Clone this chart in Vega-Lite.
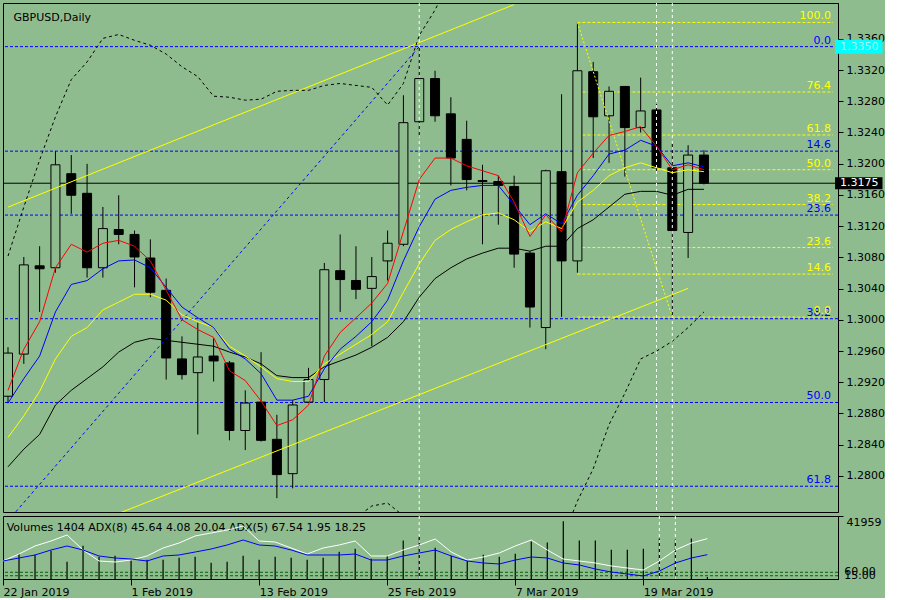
{
  "$schema": "https://vega.github.io/schema/vega-lite/v6.json",
  "background": "#8fbc8f",
  "padding": {"left": 2, "top": 2, "right": 0, "bottom": 0},
  "spacing": 2,
  "config": {
    "view": {"stroke": "black", "strokeWidth": 1},
    "axis": {"grid": false, "labelFont": "DejaVu Sans", "labelFontSize": 11, "labelColor": "black", "tickColor": "black", "domainColor": "black", "tickWidth": 1, "domainWidth": 1, "labelOverlap": false},
    "text": {"font": "DejaVu Sans", "fontSize": 11}
  },
  "datasets": {
    "bars": [
      {"i":0,"o":1.29021,"h":1.29649,"l":1.28933,"c":1.29574,"vol":14144,"red":1.29097,"blu":1.28933,"yel":1.28494,"blk":1.28117,"bbU":1.30817,"aW":36.96,"aB":36.96},
      {"i":1,"o":1.29561,"h":1.30805,"l":1.29436,"c":1.30704,"vol":16838,"red":1.29624,"blu":1.29247,"yel":1.28770,"blk":1.28343,"bbU":1.31445,"aW":46.55,"aB":41.07},
      {"i":2,"o":1.30692,"h":1.30943,"l":1.30101,"c":1.30654,"vol":16164,"red":1.29976,"blu":1.29536,"yel":1.29084,"blk":1.28532,"bbU":1.32048,"aW":57.50,"aB":45.18},
      {"i":3,"o":1.30667,"h":1.32161,"l":1.30604,"c":1.31986,"vol":18858,"red":1.30667,"blu":1.30101,"yel":1.29499,"blk":1.28908,"bbU":1.32601,"aW":64.34,"aB":52.02},
      {"i":4,"o":1.31872,"h":1.32111,"l":1.31358,"c":1.31596,"vol":11450,"red":1.30968,"blu":1.30453,"yel":1.29788,"blk":1.29097,"bbU":1.33078,"aW":72.56,"aB":57.50},
      {"i":5,"o":1.31621,"h":1.31998,"l":1.30541,"c":1.30667,"vol":22226,"red":1.30868,"blu":1.30503,"yel":1.29901,"blk":1.29247,"bbU":1.33304,"aW":52.02,"aB":52.02},
      {"i":6,"o":1.30667,"h":1.31446,"l":1.30541,"c":1.31169,"vol":14817,"red":1.30981,"blu":1.30654,"yel":1.30127,"blk":1.29398,"bbU":1.33606,"aW":36.96,"aB":43.81},
      {"i":7,"o":1.31157,"h":1.31596,"l":1.30968,"c":1.31094,"vol":15491,"red":1.31018,"blu":1.30755,"yel":1.30227,"blk":1.29587,"bbU":1.33656,"aW":35.59,"aB":41.07},
      {"i":8,"o":1.31094,"h":1.31144,"l":1.30416,"c":1.30805,"vol":12797,"red":1.30943,"blu":1.30767,"yel":1.30328,"blk":1.29712,"bbU":1.33581,"aW":38.33,"aB":39.70},
      {"i":9,"o":1.30792,"h":1.31031,"l":1.30290,"c":1.30353,"vol":12797,"red":1.30755,"blu":1.30667,"yel":1.30328,"blk":1.29762,"bbU":1.33518,"aW":43.81,"aB":36.96},
      {"i":10,"o":1.30378,"h":1.30529,"l":1.29235,"c":1.29511,"vol":12797,"red":1.30378,"blu":1.30416,"yel":1.30252,"blk":1.29737,"bbU":1.33405,"aW":54.76,"aB":43.81},
      {"i":11,"o":1.29499,"h":1.29788,"l":1.29235,"c":1.29298,"vol":14144,"red":1.30001,"blu":1.30164,"yel":1.30064,"blk":1.29712,"bbU":1.33242,"aW":61.61,"aB":45.18},
      {"i":12,"o":1.29323,"h":1.29964,"l":1.28532,"c":1.29524,"vol":14817,"red":1.29875,"blu":1.30026,"yel":1.29976,"blk":1.29687,"bbU":1.33116,"aW":71.19,"aB":49.28},
      {"i":13,"o":1.29536,"h":1.29762,"l":1.29210,"c":1.29473,"vol":10776,"red":1.29775,"blu":1.29901,"yel":1.29901,"blk":1.29662,"bbU":1.32865,"aW":75.30,"aB":53.39},
      {"i":14,"o":1.29448,"h":1.29473,"l":1.28456,"c":1.28582,"vol":11450,"red":1.29348,"blu":1.29624,"yel":1.29662,"blk":1.29587,"bbU":1.32852,"aW":79.40,"aB":58.87},
      {"i":15,"o":1.28582,"h":1.29097,"l":1.28331,"c":1.28934,"vol":15491,"red":1.29222,"blu":1.29499,"yel":1.29536,"blk":1.29524,"bbU":1.32814,"aW":84.88,"aB":65.71},
      {"i":16,"o":1.28946,"h":1.29586,"l":1.28440,"c":1.28456,"vol":12797,"red":1.28959,"blu":1.29310,"yel":1.29398,"blk":1.29436,"bbU":1.32827,"aW":64.34,"aB":58.87},
      {"i":17,"o":1.28469,"h":1.28783,"l":1.27715,"c":1.28017,"vol":14817,"red":1.28645,"blu":1.28971,"yel":1.29247,"blk":1.29285,"bbU":1.32928,"aW":62.97,"aB":57.50},
      {"i":18,"o":1.28029,"h":1.28971,"l":1.27841,"c":1.28909,"vol":14144,"red":1.28720,"blu":1.28971,"yel":1.29210,"blk":1.29260,"bbU":1.32940,"aW":54.76,"aB":52.02},
      {"i":19,"o":1.28946,"h":1.29385,"l":1.28934,"c":1.29235,"vol":12797,"red":1.28908,"blu":1.29021,"yel":1.29210,"blk":1.29260,"bbU":1.32940,"aW":46.55,"aB":45.18},
      {"i":20,"o":1.29235,"h":1.30729,"l":1.28946,"c":1.30642,"vol":14144,"red":1.29536,"blu":1.29373,"yel":1.29436,"blk":1.29398,"bbU":1.33003,"aW":54.76,"aB":45.18},
      {"i":21,"o":1.30629,"h":1.31094,"l":1.30101,"c":1.30516,"vol":18185,"red":1.29838,"blu":1.29624,"yel":1.29561,"blk":1.29474,"bbU":1.33028,"aW":58.87,"aB":45.18},
      {"i":22,"o":1.30504,"h":1.30943,"l":1.30265,"c":1.30391,"vol":20205,"red":1.30026,"blu":1.29788,"yel":1.29687,"blk":1.29549,"bbU":1.33003,"bbL2":1.27464,"aW":64.34,"aB":46.55},
      {"i":23,"o":1.30403,"h":1.30805,"l":1.29662,"c":1.30554,"vol":13470,"red":1.30215,"blu":1.29976,"yel":1.29813,"blk":1.29649,"bbU":1.32978,"bbL2":1.27615,"aW":43.81,"aB":38.33},
      {"i":24,"o":1.30755,"h":1.31144,"l":1.30504,"c":1.30981,"vol":15491,"red":1.30466,"blu":1.30252,"yel":1.29976,"blk":1.29775,"bbU":1.32752,"bbL2":1.27652,"aW":43.81,"aB":38.33},
      {"i":25,"o":1.30968,"h":1.32877,"l":1.30943,"c":1.32526,"vol":25593,"red":1.31131,"blu":1.30755,"yel":1.30353,"blk":1.29976,"bbU":1.33028,"bbL2":1.27489,"aW":52.02,"aB":43.81},
      {"i":26,"o":1.32538,"h":1.33500,"l":1.32337,"c":1.33091,"vol":28287,"red":1.31797,"blu":1.31194,"yel":1.30717,"blk":1.30290,"bbU":1.33643,"aW":58.87,"aB":47.92},
      {"i":27,"o":1.33091,"h":1.33191,"l":1.32538,"c":1.32614,"vol":20879,"red":1.32073,"blu":1.31546,"yel":1.31018,"blk":1.30529,"bbU":1.33970,"aW":67.08,"aB":52.02},
      {"i":28,"o":1.32639,"h":1.32852,"l":1.31722,"c":1.32073,"vol":15491,"red":1.32073,"blu":1.31659,"yel":1.31157,"blk":1.30667,"bbU":1.34370,"aW":49.28,"aB":43.81},
      {"i":29,"o":1.32312,"h":1.32551,"l":1.31659,"c":1.31797,"vol":12123,"red":1.31973,"blu":1.31697,"yel":1.31257,"blk":1.30780,"aW":38.33,"aB":36.96},
      {"i":30,"o":1.31785,"h":1.31986,"l":1.30968,"c":1.31772,"vol":16164,"red":1.31910,"blu":1.31722,"yel":1.31345,"blk":1.30855,"aW":42.44,"aB":34.23},
      {"i":31,"o":1.31772,"h":1.31847,"l":1.31219,"c":1.31722,"vol":14817,"red":1.31847,"blu":1.31722,"yel":1.31370,"blk":1.30918,"aW":47.92,"aB":32.86},
      {"i":32,"o":1.31709,"h":1.31847,"l":1.30667,"c":1.30842,"vol":16838,"red":1.31508,"blu":1.31471,"yel":1.31282,"blk":1.30918,"aW":57.50,"aB":38.33},
      {"i":33,"o":1.30855,"h":1.30880,"l":1.29901,"c":1.30164,"vol":24920,"red":1.31069,"blu":1.31219,"yel":1.31131,"blk":1.30880,"aW":65.71,"aB":42.44},
      {"i":34,"o":1.29901,"h":1.31923,"l":1.29624,"c":1.31910,"vol":24246,"red":1.31345,"blu":1.31358,"yel":1.31257,"blk":1.30943,"aW":52.02,"aB":41.07},
      {"i":35,"o":1.31898,"h":1.32890,"l":1.30039,"c":1.30755,"vol":38390,"red":1.31131,"blu":1.31232,"yel":1.31169,"blk":1.30943,"bbL":1.27175,"aW":39.70,"aB":34.23},
      {"i":36,"o":1.30755,"h":1.33810,"l":1.30604,"c":1.33191,"vol":25593,"red":1.31885,"blu":1.31596,"yel":1.31508,"blk":1.31169,"bbL":1.27677,"aW":36.96,"aB":31.49},
      {"i":37,"o":1.33179,"h":1.33304,"l":1.32073,"c":1.32601,"vol":25593,"red":1.32136,"blu":1.31847,"yel":1.31659,"blk":1.31282,"bbL":1.28092,"aW":34.23,"aB":26.01},
      {"i":38,"o":1.32614,"h":1.32990,"l":1.32011,"c":1.32928,"vol":19532,"red":1.32362,"blu":1.32124,"yel":1.31847,"blk":1.31445,"bbL":1.28657,"aW":30.12,"aB":21.90},
      {"i":39,"o":1.32990,"h":1.32990,"l":1.31835,"c":1.32463,"vol":19532,"red":1.32413,"blu":1.32174,"yel":1.31948,"blk":1.31609,"bbL":1.29059,"aW":27.38,"aB":19.17},
      {"i":40,"o":1.32463,"h":1.33103,"l":1.32400,"c":1.32676,"vol":20205,"red":1.32475,"blu":1.32300,"yel":1.32011,"blk":1.31646,"bbL":1.29499,"aW":24.64,"aB":16.43},
      {"i":41,"o":1.32689,"h":1.32764,"l":1.31910,"c":1.31948,"vol":26940,"red":1.32224,"blu":1.32224,"yel":1.31948,"blk":1.31646,"bbL":1.29599,"aW":36.96,"aB":23.27},
      {"i":42,"o":1.31948,"h":1.32262,"l":1.30035,"c":1.31144,"vol":26267,"red":1.31923,"blu":1.31973,"yel":1.31885,"blk":1.31596,"bbL":1.29725,"aW":52.02,"aB":34.23},
      {"i":43,"o":1.31119,"h":1.32237,"l":1.30792,"c":1.32111,"vol":26940,"red":1.31986,"blu":1.32011,"yel":1.31923,"blk":1.31672,"bbL":1.29901,"aW":61.61,"aB":41.07},
      {"i":44,"o":1.32111,"h":1.32174,"l":1.31734,"c":1.31750,"vol":1404,"red":1.31923,"blu":1.31960,"yel":1.31898,"blk":1.31672,"bbL":1.30101,"aW":67.54,"aB":45.64}
    ],
    "blueFib": [
      {"p":1.3350,"lbl":"0.0"},{"p":1.32161,"lbl":"14.6"},{"p":1.31342,"lbl":"23.6"},
      {"p":1.30014,"lbl":"38.2"},{"p":1.28941,"lbl":"50.0"},{"p":1.27868,"lbl":"61.8"}
    ],
    "yelFib": [
      {"p":1.33810,"lbl":"100.0"},{"p":1.32919,"lbl":"76.4"},{"p":1.32368,"lbl":"61.8"},{"p":1.31923,"lbl":"50.0"},
      {"p":1.31477,"lbl":"38.2"},{"p":1.30926,"lbl":"23.6"},{"p":1.30586,"lbl":"14.6"},{"p":1.30035,"lbl":"0.0"}
    ],
    "trend": [
      {"id":"up","i":0,"p":1.31444},{"id":"up","i":32,"p":1.34039},
      {"id":"lo","i":7,"p":1.27520},{"id":"lo","i":43,"p":1.30403},
      {"id":"bd","i":0,"p":1.27425},{"id":"bd","i":26,"p":1.3350},
      {"id":"yd","i":36,"p":1.33810},{"id":"yd","i":42,"p":1.30035}
    ],
    "vlines": [{"i":26},{"i":41},{"i":42}],
    "adxLvl": [{"v":21.5,"lbl":"60.00"},{"v":16.8,"lbl":"15.00"}]
  },
  "vconcat": [
    {
      "width": 835,
      "height": 509,
      "layer": [
        {
          "data": {"name": "blueFib"},
          "mark": {"type": "rule", "color": "#0000ff", "strokeDash": [3, 2]},
          "encoding": {
            "y": {"field": "p", "type": "quantitative", "scale": {"domain": [1.27602, 1.33995], "zero": false, "nice": false},
              "axis": {"orient": "right", "title": null, "values": [1.28,1.284,1.288,1.292,1.296,1.3,1.304,1.308,1.312,1.316,1.32,1.324,1.328,1.332,1.336], "tickCount": 40, "format": ".4f", "tickSize": 5, "labelPadding": 3, "labelOverlap": false}}
          }
        },
        {
          "data": {"name": "yelFib"},
          "mark": {"type": "rule", "color": "#ffff00", "strokeDash": [3, 2]},
          "encoding": {
            "x": {"datum": 36, "type": "quantitative", "scale": {"domain": [0, 52.16], "zero": false, "nice": false}, "axis": null},
            "x2": {"datum": 52.16},
            "y": {"field": "p", "type": "quantitative"}
          }
        },
        {
          "data": {"name": "bars"},
          "transform": [{"filter": "datum.i == 44"}],
          "mark": {"type": "rule", "color": "black"},
          "encoding": {"y": {"field": "c", "type": "quantitative"}}
        },
        {
          "data": {"name": "bars"},
          "mark": {"type": "rule", "color": "black", "clip": true},
          "encoding": {
            "x": {"field": "i", "type": "quantitative", "axis": null},
            "y": {"field": "l", "type": "quantitative"},
            "y2": {"field": "h"}
          }
        },
        {
          "data": {"name": "bars"},
          "mark": {"type": "bar", "size": 9, "stroke": "black", "strokeWidth": 1, "clip": true},
          "encoding": {
            "x": {"field": "i", "type": "quantitative", "axis": null},
            "y": {"field": "o", "type": "quantitative"},
            "y2": {"field": "c"},
            "fill": {"condition": {"test": "datum.c < datum.o", "value": "black"}, "value": "#8fbc8f"}
          }
        },
        {
          "data": {"name": "vlines"},
          "mark": {"type": "rule", "color": "white", "strokeDash": [3, 3]},
          "encoding": {"x": {"field": "i", "type": "quantitative", "axis": null}}
        },
        {
          "data": {"name": "trend"},
          "transform": [{"filter": "datum.id == 'up' || datum.id == 'lo'"}],
          "mark": {"type": "line", "color": "#ffff00", "strokeWidth": 1, "clip": true},
          "encoding": {
            "x": {"field": "i", "type": "quantitative", "axis": null},
            "y": {"field": "p", "type": "quantitative"},
            "detail": {"field": "id"}
          }
        },
        {
          "data": {"name": "trend"},
          "transform": [{"filter": "datum.id == 'bd'"}],
          "mark": {"type": "line", "color": "#0000ff", "strokeWidth": 1, "strokeDash": [3, 3], "clip": true},
          "encoding": {
            "x": {"field": "i", "type": "quantitative", "axis": null},
            "y": {"field": "p", "type": "quantitative"}
          }
        },
        {
          "data": {"name": "trend"},
          "transform": [{"filter": "datum.id == 'yd'"}],
          "mark": {"type": "line", "color": "#ffff00", "strokeWidth": 1, "strokeDash": [2, 2], "clip": true},
          "encoding": {
            "x": {"field": "i", "type": "quantitative", "axis": null},
            "y": {"field": "p", "type": "quantitative"}
          }
        },
        {
          "data": {"name": "bars"},
          "mark": {"type": "line", "color": "black", "strokeWidth": 1, "strokeDash": [3, 3], "clip": true},
          "encoding": {
            "x": {"field": "i", "type": "quantitative", "axis": null},
            "y": {"field": "bbU", "type": "quantitative"}
          }
        },
        {
          "data": {"name": "bars"},
          "mark": {"type": "line", "color": "black", "strokeWidth": 1, "strokeDash": [3, 3], "clip": true},
          "encoding": {
            "x": {"field": "i", "type": "quantitative", "axis": null},
            "y": {"field": "bbL", "type": "quantitative"}
          }
        },
        {
          "data": {"name": "bars"},
          "mark": {"type": "line", "color": "black", "strokeWidth": 1, "strokeDash": [3, 3], "clip": true},
          "encoding": {
            "x": {"field": "i", "type": "quantitative", "axis": null},
            "y": {"field": "bbL2", "type": "quantitative"}
          }
        },
        {
          "data": {"name": "bars"},
          "mark": {"type": "line", "color": "black", "strokeWidth": 1, "clip": true},
          "encoding": {
            "x": {"field": "i", "type": "quantitative", "axis": null},
            "y": {"field": "blk", "type": "quantitative"}
          }
        },
        {
          "data": {"name": "bars"},
          "mark": {"type": "line", "color": "#ffff00", "strokeWidth": 1, "clip": true},
          "encoding": {
            "x": {"field": "i", "type": "quantitative", "axis": null},
            "y": {"field": "yel", "type": "quantitative"}
          }
        },
        {
          "data": {"name": "bars"},
          "mark": {"type": "line", "color": "#0000ff", "strokeWidth": 1, "clip": true},
          "encoding": {
            "x": {"field": "i", "type": "quantitative", "axis": null},
            "y": {"field": "blu", "type": "quantitative"}
          }
        },
        {
          "data": {"name": "bars"},
          "mark": {"type": "line", "color": "#ff0000", "strokeWidth": 1, "clip": true},
          "encoding": {
            "x": {"field": "i", "type": "quantitative", "axis": null},
            "y": {"field": "red", "type": "quantitative"}
          }
        },
        {
          "data": {"name": "blueFib"},
          "mark": {"type": "text", "color": "#0000ff", "align": "right", "baseline": "bottom", "dy": -1},
          "encoding": {
            "x": {"datum": 52.04, "axis": null},
            "y": {"field": "p", "type": "quantitative"},
            "text": {"field": "lbl"}
          }
        },
        {
          "data": {"name": "yelFib"},
          "mark": {"type": "text", "color": "#ffff00", "align": "right", "baseline": "bottom", "dy": -1},
          "encoding": {
            "x": {"datum": 52.04, "axis": null},
            "y": {"field": "p", "type": "quantitative"},
            "text": {"field": "lbl"}
          }
        },
        {
          "data": {"values": [{}]},
          "mark": {"type": "text", "color": "black", "align": "left", "baseline": "middle"},
          "encoding": {
            "x": {"datum": 0.35, "axis": null},
            "y": {"datum": 1.3387},
            "text": {"value": "GBPUSD,Daily"}
          }
        },
        {
          "data": {"name": "blueFib"},
          "transform": [{"filter": "datum.lbl == '0.0'"}],
          "mark": {"type": "bar", "orient": "horizontal", "color": "#00ffff", "size": 14},
          "encoding": {
            "x": {"datum": 52.29, "axis": null},
            "x2": {"datum": 55.29},
            "y": {"field": "p", "type": "quantitative"}
          }
        },
        {
          "data": {"name": "blueFib"},
          "transform": [{"filter": "datum.lbl == '0.0'"}],
          "mark": {"type": "text", "color": "#a6f5f5", "align": "left", "baseline": "middle"},
          "encoding": {
            "x": {"datum": 52.6, "axis": null},
            "y": {"field": "p", "type": "quantitative"},
            "text": {"field": "p", "type": "quantitative", "format": ".4f"}
          }
        },
        {
          "data": {"name": "bars"},
          "transform": [{"filter": "datum.i == 44"}],
          "mark": {"type": "bar", "orient": "horizontal", "color": "black", "size": 12},
          "encoding": {
            "x": {"datum": 52.29, "axis": null},
            "x2": {"datum": 55.29},
            "y": {"field": "c", "type": "quantitative"}
          }
        },
        {
          "data": {"name": "bars"},
          "transform": [{"filter": "datum.i == 44"}],
          "mark": {"type": "text", "color": "white", "align": "left", "baseline": "middle"},
          "encoding": {
            "x": {"datum": 52.6, "axis": null},
            "y": {"field": "c", "type": "quantitative"},
            "text": {"field": "c", "type": "quantitative", "format": ".4f"}
          }
        }
      ]
    },
    {
      "width": 835,
      "height": 63,
      "resolve": {"scale": {"y": "independent"}},
      "layer": [
        {
          "layer": [
            {
              "data": {"name": "bars"},
              "mark": {"type": "rule", "color": "black", "strokeWidth": 1.2, "clip": true},
              "encoding": {
                "x": {"field": "i", "type": "quantitative", "scale": {"domain": [0, 52.16], "zero": false, "nice": false},
                  "axis": {"orient": "bottom", "title": null, "values": [0, 8, 16, 24, 32, 40], "tickCount": 40,
                    "labelExpr": "['22 Jan 2019','1 Feb 2019','13 Feb 2019','25 Feb 2019','7 Mar 2019','19 Mar 2019'][round(datum.value / 8)]",
                    "labelAlign": "left", "labelBaseline": "top", "labelPadding": 1, "tickSize": 6, "labelFlush": false, "labelOverlap": false}},
                "y": {"field": "vol", "type": "quantitative", "scale": {"domain": [0, 41959], "nice": false},
                  "axis": {"orient": "right", "title": null, "values": [41959], "format": "d", "tickSize": 5, "labelPadding": 3, "labelBaseline": "top"}},
                "y2": {"datum": 0}
              }
            },
            {
              "data": {"name": "vlines"},
              "mark": {"type": "rule", "color": "white", "strokeDash": [3, 3]},
              "encoding": {"x": {"field": "i", "type": "quantitative"}}
            },
            {
              "data": {"values": [{}]},
              "mark": {"type": "text", "color": "black", "align": "left", "baseline": "middle"},
              "encoding": {
                "x": {"datum": 0.23},
                "y": {"datum": 33966},
                "text": {"value": "Volumes 1404 ADX(8) 45.64 4.08 20.04 ADX(5) 67.54 1.95 18.25"}
              }
            }
          ]
        },
        {
          "layer": [
            {
              "data": {"name": "adxLvl"},
              "mark": {"type": "rule", "color": "#006400", "strokeDash": [3, 2]},
              "encoding": {
                "y": {"field": "v", "type": "quantitative", "scale": {"domain": [12.32, 98.57], "zero": false, "nice": false}, "axis": null}
              }
            },
            {
              "data": {"name": "bars"},
              "mark": {"type": "line", "color": "white", "strokeWidth": 1, "clip": true},
              "encoding": {
                "x": {"field": "i", "type": "quantitative"},
                "y": {"field": "aW", "type": "quantitative", "axis": null}
              }
            },
            {
              "data": {"name": "bars"},
              "mark": {"type": "line", "color": "#0000ff", "strokeWidth": 1, "clip": true},
              "encoding": {
                "x": {"field": "i", "type": "quantitative"},
                "y": {"field": "aB", "type": "quantitative", "axis": null}
              }
            },
            {
              "data": {"name": "adxLvl"},
              "mark": {"type": "text", "color": "black", "align": "left", "baseline": "middle"},
              "encoding": {
                "x": {"datum": 52.55},
                "y": {"field": "v", "type": "quantitative", "axis": null},
                "text": {"field": "lbl"}
              }
            }
          ]
        }
      ]
    }
  ]
}
